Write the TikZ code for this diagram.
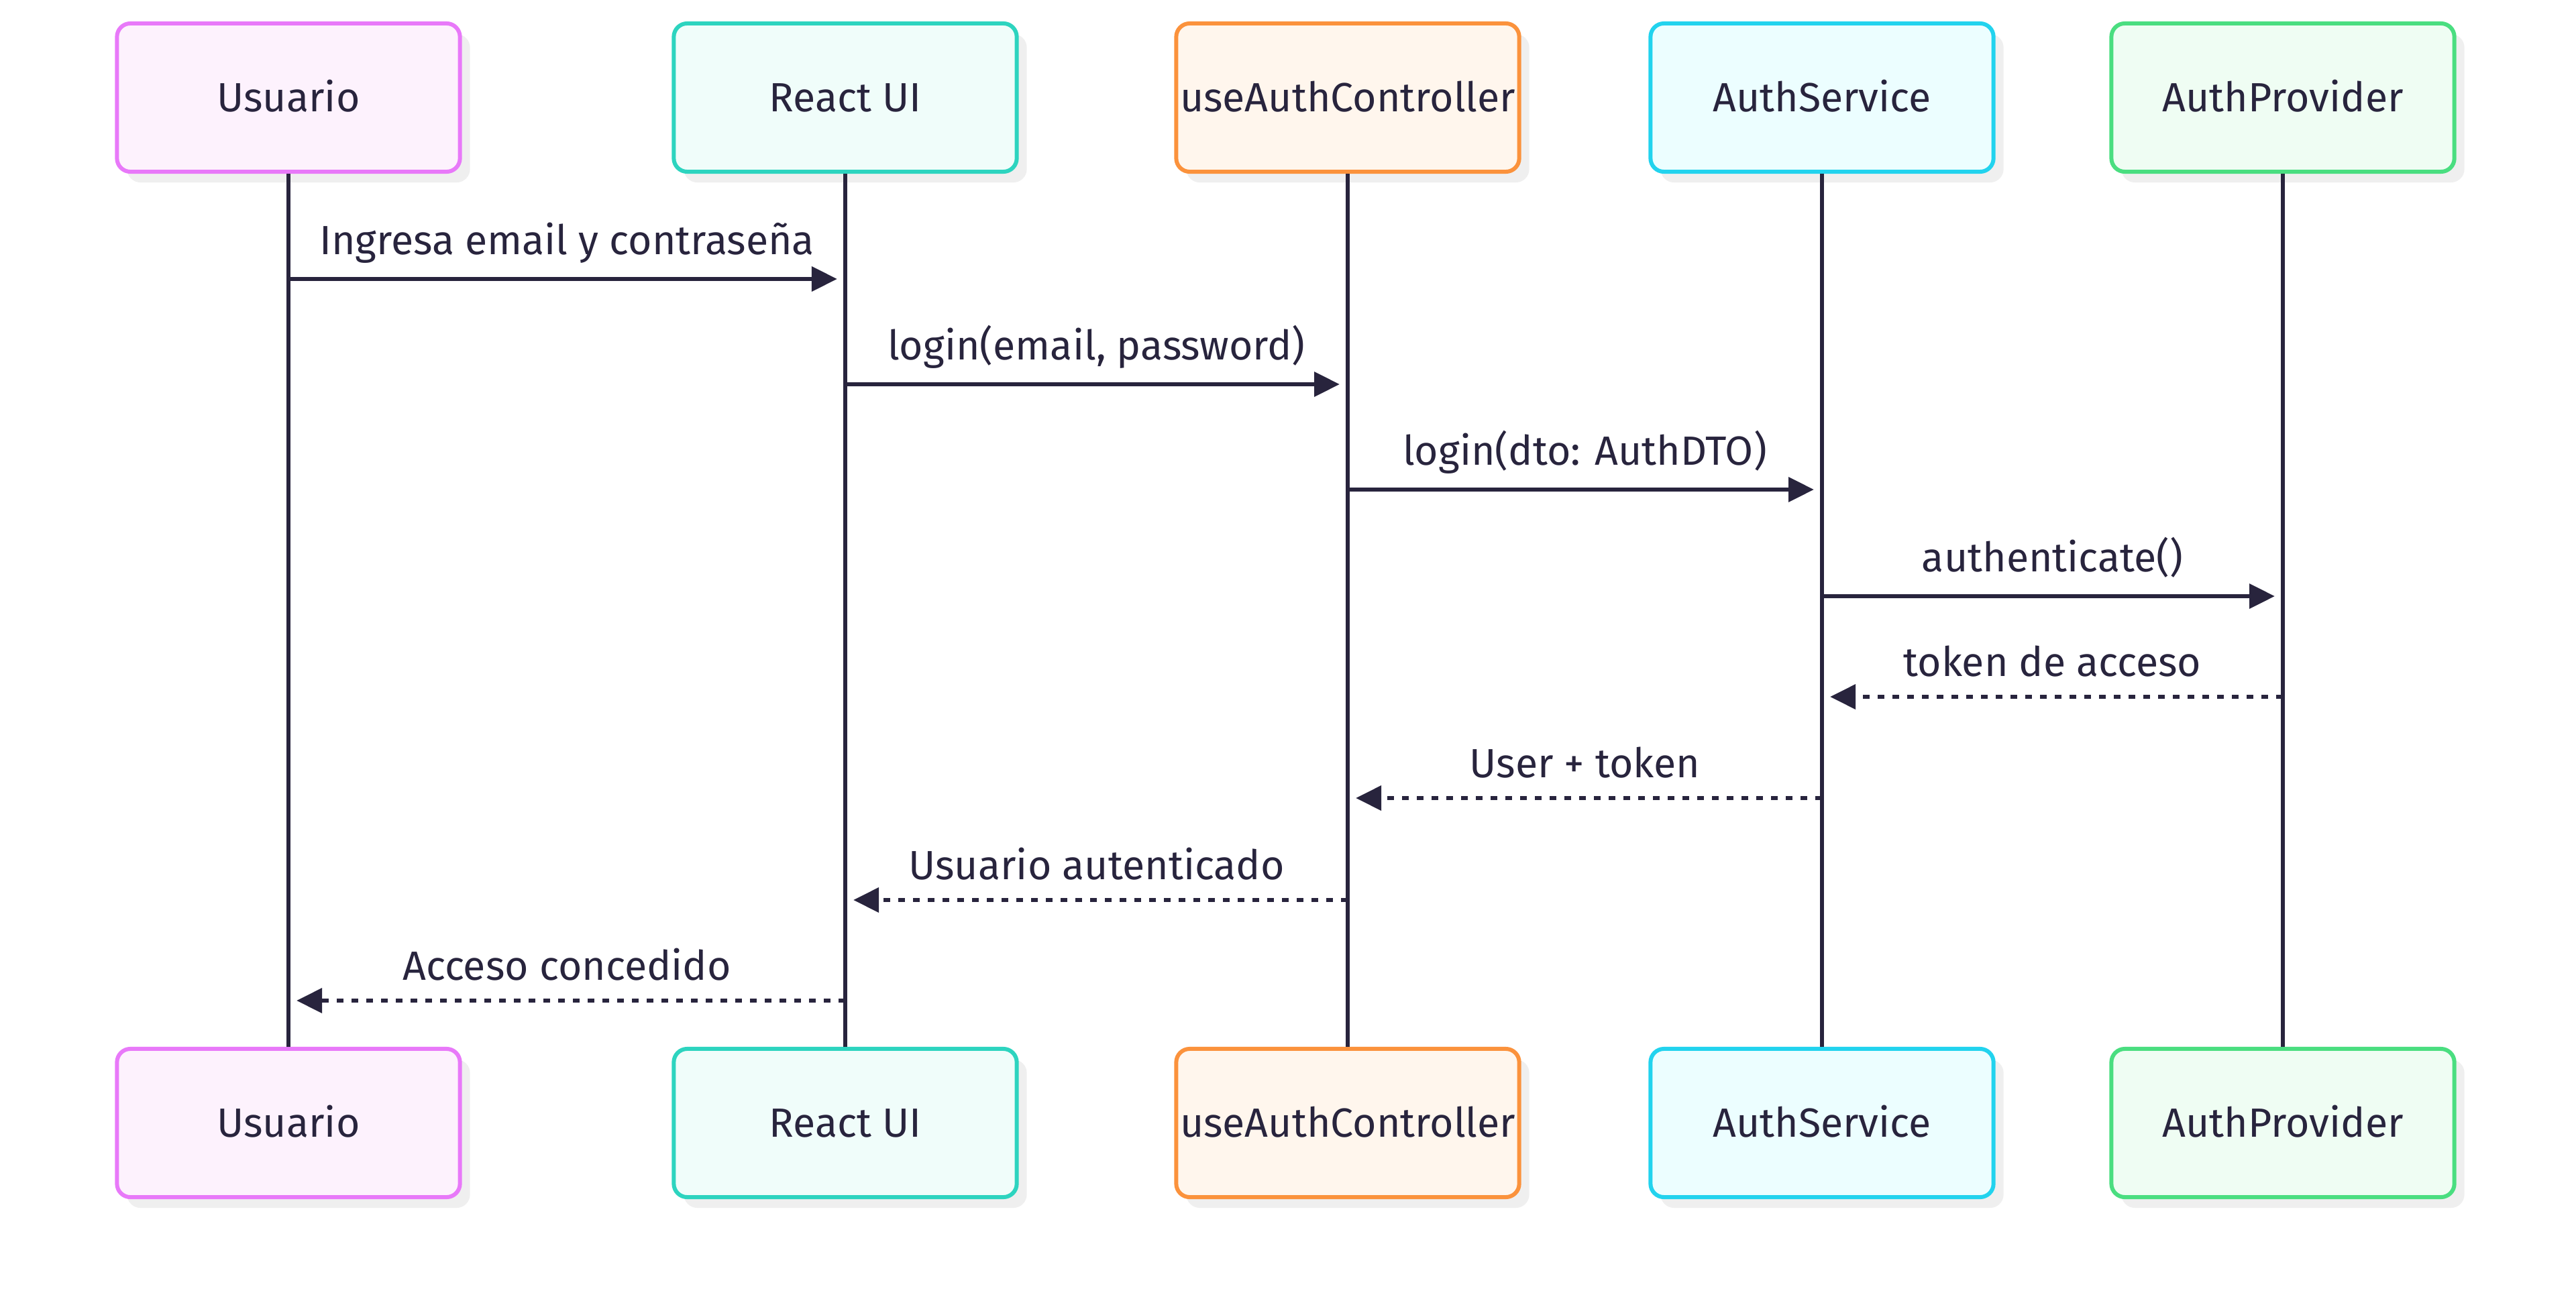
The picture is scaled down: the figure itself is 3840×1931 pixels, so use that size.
\documentclass[tikz,border=0pt]{standalone}
\usepackage{fontspec}
\setmainfont{Fira Sans}
\usetikzlibrary{arrows.meta, shadows}
\definecolor{ink}{HTML}{28243D}
\definecolor{shadowgray}{HTML}{EFEFEF}
\definecolor{lineusu}{HTML}{E879F9}
\definecolor{fillusu}{HTML}{FDF2FD}
\definecolor{lineui}{HTML}{2DD4BF}
\definecolor{fillui}{HTML}{F0FDFA}
\definecolor{linectl}{HTML}{FB923C}
\definecolor{fillctl}{HTML}{FFF6ED}
\definecolor{linesrv}{HTML}{22D3EE}
\definecolor{fillsrv}{HTML}{ECFEFF}
\definecolor{lineprov}{HTML}{4ADE80}
\definecolor{fillprov}{HTML}{EFFDF3}

\begin{document}
\begin{tikzpicture}
  [x=0.01cm, y=-0.01cm, font=\fontsize{17.3}{20}\selectfont, text=ink,
   actor/.style={rounded corners=0.2cm, line width=0.06cm, minimum width=5.11cm,
     minimum height=2.21cm, inner sep=0pt, text height=11.9pt, text depth=0pt,
     drop shadow={shadow xshift=0.15cm, shadow yshift=-0.16cm,
       fill=shadowgray, opacity=1}},
   msg/.style={draw=ink, line width=0.065cm, shorten >=0.12cm,
     -{Triangle[length=0.38cm, width=0.36cm]}},
   reply/.style={msg, dash pattern=on 0.1cm off 0.12cm},
   lbl/.style={midway, anchor=base}]
  \useasboundingbox (0,0) rectangle (3840,1931);
    \foreach \n/\x/\c/\name in {1/430/usu/Usuario,2/1260/ui/React UI,
                  3/2009/ctl/useAuthController,4/2716/srv/AuthService,
                  5/3403/prov/AuthProvider}{
      \node[actor, draw=line\c, fill=fill\c] (t\n) at (\x,145.5) {\name};
      \node[actor, draw=line\c, fill=fill\c] (b\n) at (\x,1674.5) {\name};
      \draw[ink, line width=0.065cm] (t\n) -- (b\n); }
    \foreach \i/\a/\b/\y/\g/\sty/\txt in {1/1/2/416/.36/msg/Ingresa email y contraseña,
                  2/2/3/573/.36/msg/{login(email, password)},
                  3/3/4/730/.36/msg/login(dto: AuthDTO),
                  4/4/5/889/.36/msg/authenticate(),
                  5/5/4/1039/.30/reply/token de acceso,
                  6/4/3/1190/.30/reply/User + token,
                  7/3/2/1342/.30/reply/Usuario autenticado,
                  8/2/1/1492/.30/reply/Acceso concedido}{
      \coordinate (s\i) at (t\a |- 0,\y);
      \coordinate (e\i) at (t\b |- 0,\y);
      \draw[\sty] (s\i) -- node[lbl, yshift=\g cm] {\txt} (e\i);}
  \end{tikzpicture}
\end{document}
